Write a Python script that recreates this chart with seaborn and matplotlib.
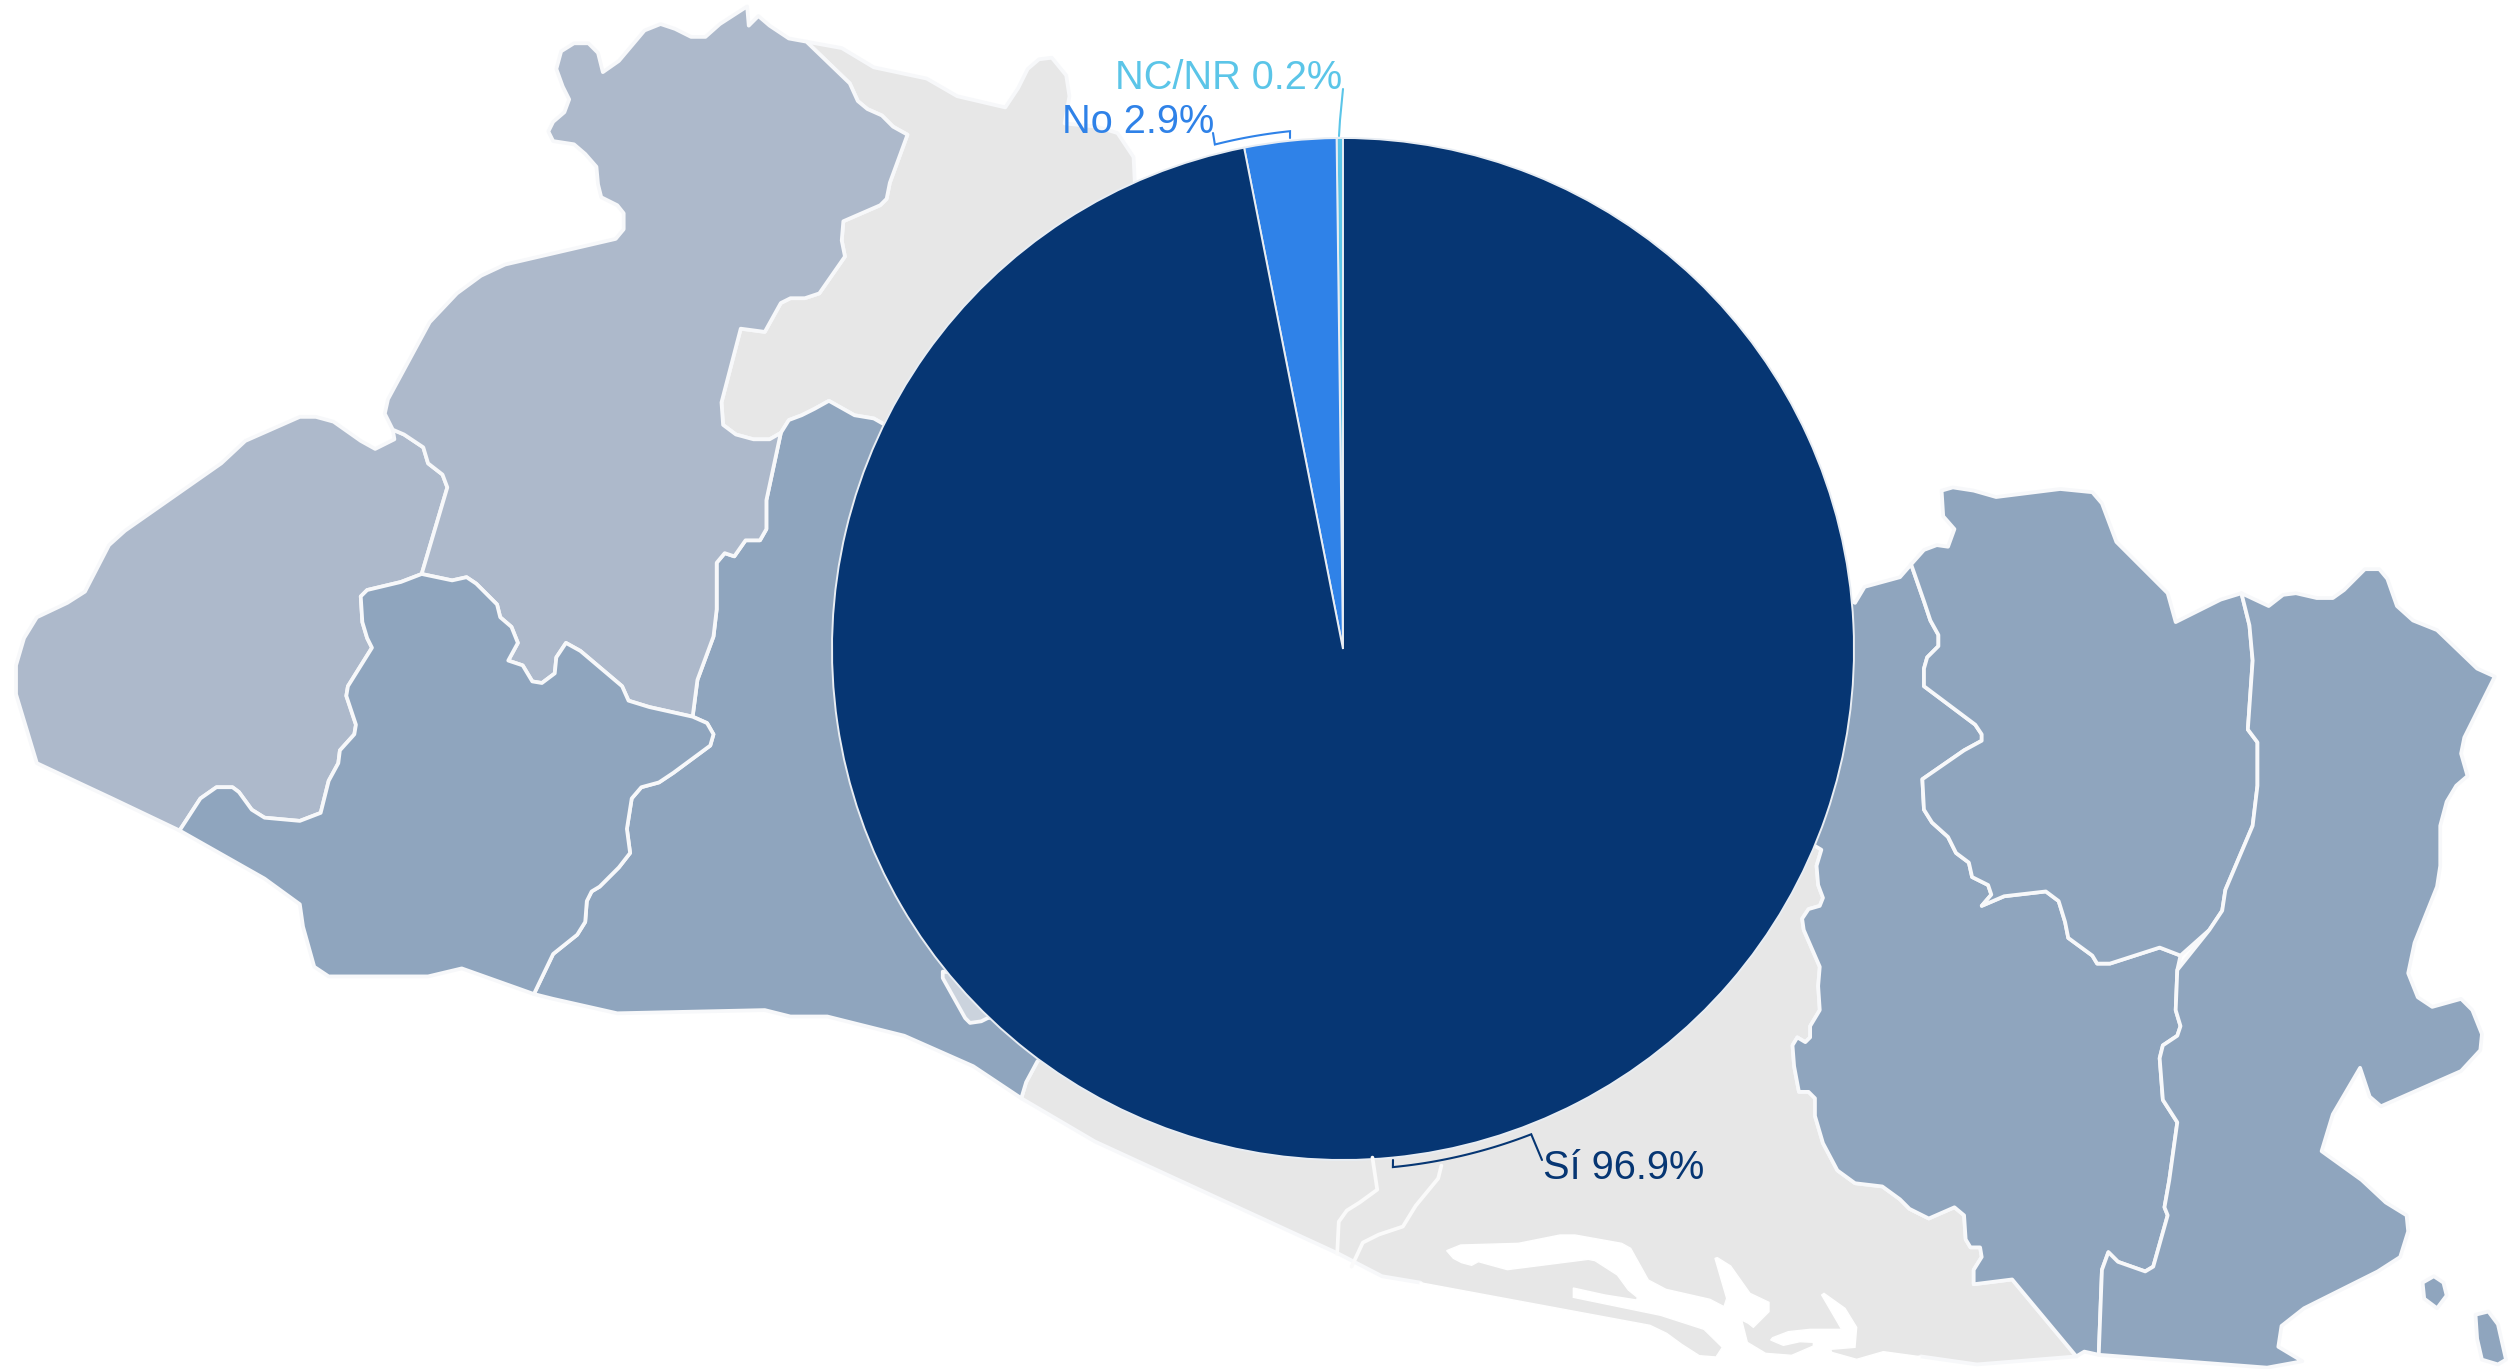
import numpy as np
import matplotlib
matplotlib.use("Agg")
import matplotlib.pyplot as plt
from matplotlib.patches import Polygon
import seaborn as sns

# ---- chart data ----
answers = ["NC/NR", "No", "Sí"]
shares = [0.2, 2.9, 96.9]
answer_colors = ["#5BC5E8", "#2F82E8", "#063673"]

# ---- background map outlines (traced, reference coordinates at 1568 wide) ----
W, H = 2514, 1369
S = W / 1568

nw_border = [(245,268),(252,271),(264,279),(267,289),(276,296),(279,304),(263,358)]
sa_son = [(263,358),(282,362),(291,360),(297,364),(310,377),(312,385),(319,391),(323,401),(317,412),(326,415),(332,425),(338,426),(346,420),(347,410),(353,401),(362,406),(388,428),(392,437),(405,441),(432,447)]
ahu_son = [(263,358),(250,363),(229,368),(225,372),(226,388),(229,398),(232,404),(217,428),(216,434),(222,452),(221,458),(212,468),(211,476),(205,487),(200,507),(187,512),(165,510),(157,505),(149,494),(145,491),(135,491),(125,498),(112,518)]
sa_lib = [(487,270),(478,312),(478,330),(474,337),(465,337),(458,347),(452,345),(447,351),(447,380),(445,397),(435,424),(432,447)]
son_lib = [(432,447),(441,451),(445,458),(443,465),(420,482),(411,488),(400,491),(394,498),(391,517),(393,532),(386,541),(374,553),(369,556),(366,562),(365,575),(360,583),(345,595),(333,620)]
sa_cha = [(503,26),(530,52),(535,63),(541,68),(550,72),(557,79),(566,84),(555,114),(553,124),(549,128),(526,138),(525,150),(527,160),(511,183),(502,186),(493,186),(487,189),(477,207),(462,205),(450,251),(451,265),(459,271),(470,274),(480,274),(487,270)]
cha_lib = [(487,270),(492,262),(500,259),(508,255),(517,250),(533,259),(545,261),(552,265)]

ahuachapan = [(10,433),(10,415),(15,398),(23,385),(42,376),(53,369),(68,340),(78,331),(138,289),(153,275),(187,260),(197,260),(208,263),(225,275),(234,280),(246,274)] + nw_border + ahu_son[1:] + [(70,498),(23,476)]
santa_ana = [(245,268),(240,258),(242,249),(268,201),(285,183),(300,172),(315,165),(384,149),(389,143),(389,133),(385,128),(375,123),(373,115),(372,104),(365,96),(358,90),(345,88),(342,82),(345,76),(352,70),(355,62),(351,54),(347,43),(350,32),(358,27),(367,27),(373,33),(376,45),(386,38),(402,19),(412,15),(421,18),(431,23),(440,23),(449,15),(466,4),(467,16),(473,10),(480,16),(492,24)] + sa_cha + sa_lib[1:] + sa_son[::-1][1:] + nw_border[::-1][1:]
sonsonate = sa_son + son_lib[1:] + [(288,604),(267,609),(205,609),(196,603),(189,578),(187,564),(165,548)] + ahu_son[::-1][:-1]
la_libertad = cha_lib + [(700,400),(700,620),(647,662),(640,675),(637,685),(607,665),(564,646),(516,634),(493,634),(477,630),(385,632),(345,623)] + son_lib[::-1][:-1] + sa_lib[::-1][:-1]
san_salvador = [(588,606),(588,610),(602,635),(605,638),(612,637),(616,635),(720,620)]
chalatenango = [(503,26),(525,30),(545,42),(578,49),(597,60),(627,67),(635,55),(641,43),(648,37),(656,36),(665,47),(667,60),(664,77),(684,79),(697,83),(707,98),(712,200),(552,265)] + cha_lib[::-1][1:] + sa_cha[::-1][:-1]

grey_west = [(1134,527),(1136,530),(1133,540),(1134,552),(1137,560),(1135,565),(1128,567),(1124,573),(1125,580),(1135,603),(1134,615),(1135,630),(1129,640),(1129,647),(1126,650),(1121,647),(1118,652),(1119,665),(1122,681),(1128,681),(1132,685),(1132,696),(1137,713),(1146,730),(1157,738),(1174,740),(1185,748),(1191,754),(1203,760),(1219,753),(1225,758),(1226,773),(1229,778),(1235,778),(1236,784),(1231,792),(1231,801),(1255,798),(1295,846)]
coast_center = [(1300,843),(1309,845)]
usu_lau = [(1353,736),(1350,753),(1352,758),(1343,790),(1338,793),(1321,787),(1315,781),(1311,792),(1309,845)]
usu_upper = [(1360,596),(1358,605),(1357,630),(1360,640),(1358,646),(1349,652),(1347,660),(1349,686),(1358,700)] + usu_lau
sm_mor = [(1192,352),(1200,375),(1204,387),(1209,396),(1209,403),(1202,410),(1200,417),(1200,428),(1232,452),(1236,458),(1236,462),(1225,468),(1199,486),(1200,505),(1205,513),(1215,522),(1220,532),(1228,538),(1230,547),(1240,552),(1242,558),(1236,565),(1250,559),(1276,556),(1284,562),(1288,575),(1290,585),(1305,596),(1308,601),(1316,601),(1347,591),(1360,596)]
mor_lau = [(1398,370),(1403,390),(1405,412),(1402,455),(1408,463),(1408,490),(1405,515),(1388,555),(1386,568),(1378,580),(1360,596)]

san_miguel = [(1000,300),(1157,376),(1163,366),(1185,360)] + sm_mor + usu_upper[1:] + coast_center[::-1][1:] + grey_west[::-1][:-1] + [(1000,450)]
morazan = [(1192,352),(1200,343),(1208,340),(1215,341),(1219,330),(1212,322),(1211,306),(1218,304),(1231,306),(1245,310),(1285,305),(1305,307),(1311,314),(1320,338),(1340,358),(1352,370),(1357,388),(1385,374)] + mor_lau + sm_mor[::-1][1:]
la_union = [(1398,370),(1415,378),(1424,371),(1432,370),(1445,373),(1455,373),(1462,368),(1475,355),(1484,355),(1489,361),(1495,378),(1505,387),(1520,393),(1545,417),(1556,422),(1537,460),(1535,470),(1539,484),(1532,490),(1526,500),(1522,515),(1522,540),(1520,553),(1506,588),(1502,607),(1508,622),(1517,628),(1535,623),(1542,630),(1548,645),(1547,655),(1535,668),(1485,690),(1478,684),(1472,666),(1455,695),(1448,718),(1473,736),(1488,750),(1501,758),(1502,768),(1497,784),(1483,793),(1437,816),(1423,827),(1421,840),(1436,849),(1414,853)] + usu_upper[::-1][:-1] + mor_lau[::-1][1:]
island_a = [(1511,800),(1518,796),(1524,800),(1526,808),(1520,816),(1512,810)]
island_b = [(1544,820),(1552,818),(1558,826),(1563,848),(1558,851),(1548,848),(1545,835)]
grey_south = [(647,662),(640,675),(637,685),(683,712),(835,782),(862,796),(886,800),(936,854),(1185,854),(1198,846),(1233,851)] + grey_west[::-1] + [(1000,450),(700,500)]

inner_line_a = [(856,722),(859,742),(848,750),(840,755),(835,762),(834,782)]
inner_line_b = [(899,727),(897,735),(883,752),(875,765),(860,770),(850,775),(843,790)]

estuary = [(0,218),(690,346),(740,370),(785,403),(838,437),(888,441),(907,412),(852,358),(722,316),(460,262),(460,234),(555,255),(650,270),(652,262),(625,240),(592,195),(525,152),(505,148),(262,179),(175,155),(155,166),(125,158),(100,145),(80,122),(122,105),(295,100),(420,75),(465,75),(605,100),(632,115),(685,210),(738,238),(870,268),(912,290),(920,265),(885,145),(892,143),(932,168),(990,250),(1047,277),(1047,305),(1000,352),(985,340),(965,330),(982,397),(1037,430),(1115,436),(1180,408),(1180,397),(1140,395),(1090,406),(1052,390),(1058,383),(1105,365),(1170,358),(1265,358),(1205,255),(1212,250),(1275,295),(1310,352),(1305,412),(1232,418),(1235,427),(1310,448),(1390,425),(1500,440),(1500,560),(0,560)]

LIGHT, MID, GREY, PALE = "#ADB9CB", "#8FA5BE", "#E7E7E7", "#CBD3DD"


def disp(pts):
    a = np.array(pts, dtype=float) * S
    a[:, 1] = H - a[:, 1]
    return a


def full(pts):
    a = np.array(pts, dtype=float)
    a[:, 1] = H - a[:, 1]
    return a


sns.set_theme(style="white")
plt.rcParams["font.family"] = ["Liberation Sans", "DejaVu Sans"]
palette = sns.color_palette(answer_colors)

fig = plt.figure(figsize=(W / 100, H / 100), dpi=100, facecolor="white")
ax = fig.add_axes([0, 0, 1, 1])

edge = dict(edgecolor="#F7F8FA", linewidth=2.7, joinstyle="round")
for poly, col in [(chalatenango, GREY), (grey_south, GREY), (la_libertad, MID), (san_salvador, PALE),
                  (ahuachapan, LIGHT), (santa_ana, LIGHT), (sonsonate, MID), (san_miguel, MID),
                  (morazan, MID), (la_union, MID), (island_a, MID), (island_b, MID)]:
    ax.add_patch(Polygon(disp(poly), closed=True, facecolor=col, **edge))
for line in (inner_line_a, inner_line_b):
    p = disp(line)
    ax.plot(p[:, 0], p[:, 1], color="#FAFAFA", lw=2.7, solid_joinstyle="round")

est = np.array(estuary, dtype=float) / 3 + np.array([1420, 1210])
ax.add_patch(Polygon(full(est), closed=True, facecolor="white", edgecolor="white", linewidth=1))

# pie chart
cx, cy, R = 1343, H - 649, 511
ax.pie(shares, colors=palette, startangle=90, counterclock=True, center=(cx, cy), radius=R,
       frame=True, wedgeprops=dict(edgecolor="#E8EDF3", linewidth=1.4))


def bracket(a0, a1, tick0, tick1, color, radius=520.5):
    th = np.radians(np.linspace(a0, a1, 40))
    xy = np.c_[cx + radius * np.cos(th), cy + radius * np.sin(th)]
    xy = np.vstack([full([tick0]), xy, full([tick1])])
    ax.plot(xy[:, 0], xy[:, 1], color=color, lw=1.5, solid_joinstyle="miter")


bracket(95.84, 104.25, (1290, 138), (1213, 133), palette[1])
bracket(-84.5, -68.8, (1393, 1160), (1542, 1160), palette[2])
nc = full([(1343, 89), (1340, 120), (1339, 136)])
ax.plot(nc[:, 0], nc[:, 1], color=palette[0], lw=1.5)

labels = [f"{n} {v}%" for n, v in zip(answers, shares)]
for label, col, (x, y) in zip(labels, palette, [(1115, 89), (1062, 133), (1543, 1179)]):
    ax.text(x, H - y, label, color=col, fontsize=28.6, ha="left", va="baseline")

ax.set_xlim(0, W)
ax.set_ylim(0, H)
ax.set_aspect("auto")
ax.axis("off")
fig.savefig("out.png", dpi=100, facecolor="white")
